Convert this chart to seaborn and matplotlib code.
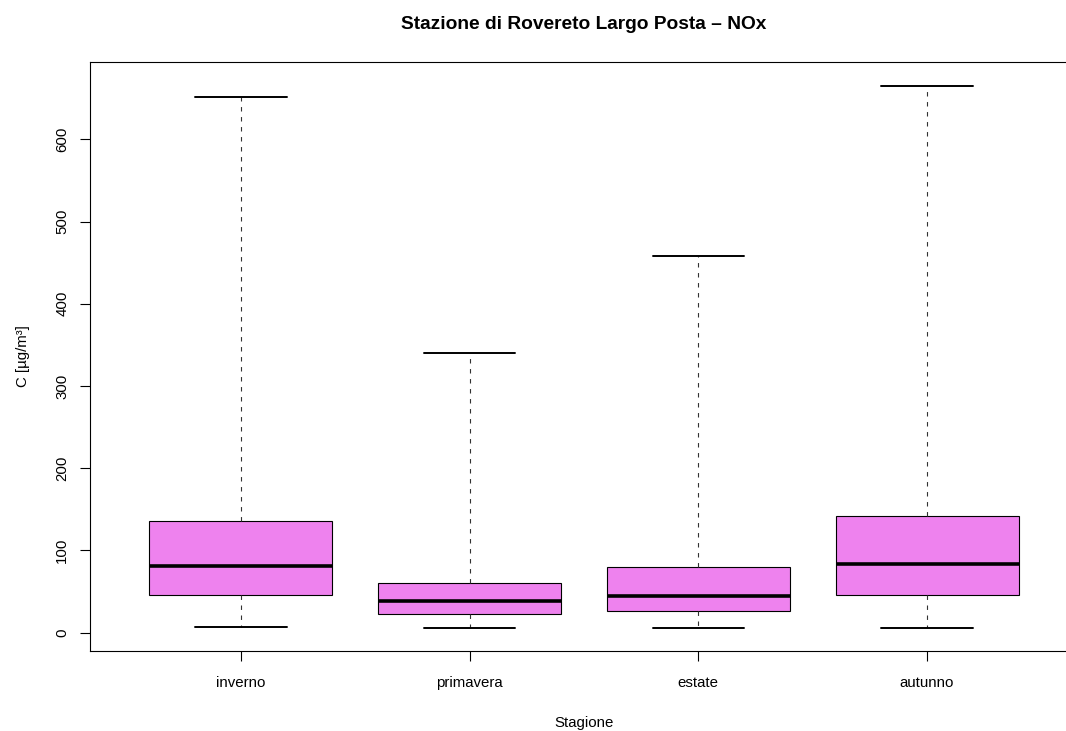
import numpy as np
import pandas as pd
import seaborn as sns
import matplotlib.pyplot as plt

# five-number summaries (min, q1, median, q3, max)
stagioni = ['inverno', 'primavera', 'estate', 'autunno']
minimo = [7, 6, 5, 5]
q1 = [46, 22, 26, 46]
mediana = [81, 38, 44, 84]
q3 = [136, 60, 80, 142]
massimo = [652, 340, 458, 665]

# long form: with 5 points per group the quartiles fall exactly on the values above
rows = []
for i, s in enumerate(stagioni):
    for v in [minimo[i], q1[i], mediana[i], q3[i], massimo[i]]:
        rows.append({'Stagione': s, 'C': v})
df = pd.DataFrame(rows)

sns.set_theme(style="ticks")
plt.rcParams['font.family'] = ['Liberation Sans', 'DejaVu Sans']
plt.rcParams['text.color'] = 'black'
plt.rcParams['axes.labelcolor'] = 'black'
plt.rcParams['xtick.color'] = 'black'
plt.rcParams['ytick.color'] = 'black'

fig = plt.figure(figsize=(10.66, 7.31), dpi=100)
ax = fig.add_axes([90 / 1066, 1 - 651 / 731, 988 / 1066, 589 / 731])

sns.boxplot(data=df, x='Stagione', y='C', order=stagioni, color='#EE82EE',
            saturation=1, width=0.8, whis=(0, 100), showfliers=False,
            linecolor='black', linewidth=0.8,
            boxprops=dict(edgecolor='black', linewidth=0.8),
            medianprops=dict(color='black', linewidth=2.6),
            whiskerprops=dict(color='#333333', linewidth=0.8, linestyle=(0, (4, 5))),
            capprops=dict(color='black', linewidth=1.4),
            ax=ax)

ax.set_xlim(-0.66, 3.66)
ax.set_ylim(-22.4, 694)
ax.set_yticks([0, 100, 200, 300, 400, 500, 600])
ax.set_yticklabels(['0', '100', '200', '300', '400', '500', '600'], rotation=90, va='center')
ax.tick_params(axis='both', length=7, width=0.8, color='black', labelcolor='black', labelsize=10.8)
ax.tick_params(axis='x', pad=11)
ax.tick_params(axis='y', pad=8)
for sp in ax.spines.values():
    sp.set_visible(True)
    sp.set_color('black')
    sp.set_linewidth(0.8)

ax.set_xlabel('Stagione', fontsize=10.8, labelpad=19)
ax.set_ylabel('C [µg/m³]', fontsize=10.8, labelpad=18)
ax.set_title('Stazione di Rovereto Largo Posta – NOx', fontsize=13.8, fontweight='bold', pad=24)

fig.savefig('out.png', dpi=100)
